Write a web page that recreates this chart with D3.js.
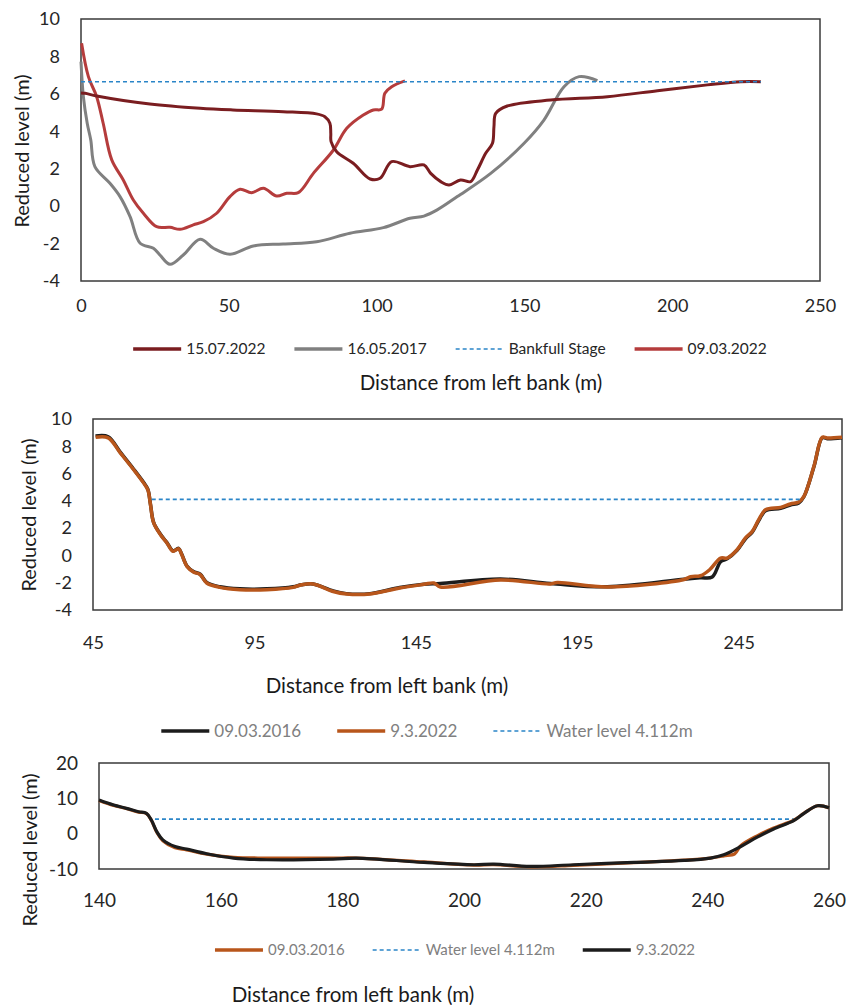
<!DOCTYPE html>
<html lang="en">
<head>
  <meta charset="UTF-8">
  <title>Cross sections – reduced level vs distance</title>
  <script src="https://d3js.org/d3.v7.min.js"></script>
  <style>
    html, body { margin: 0; padding: 0; background: #fff; }
    svg { display: block; }
    text { font-family: Lato, "Open Sans", sans-serif; }
  </style>
</head>
<body>
  <script>
    // ------------- Data -------------
    // Panel 1
    const p1XTicks = [0, 50, 100, 150, 200, 250];
    const p1YTicks = [-4, -2, 0, 2, 4, 6, 8, 10];
    const s15072022 = [[0,6.05],[1.4,6.03],[5.3,5.89],[23.3,5.46],[40.3,5.23],[51.4,5.14],[68.4,5.05],[79.7,4.93],
      [82.5,4.78],[84.2,4.43],[84.5,3.89],[84.6,3.45],[86.5,2.91],[92.1,2.29],[97.8,1.45],[101.2,1.49],[105.1,2.38],
      [111.3,2.11],[116,2.2],[118.3,1.75],[121.7,1.31],[124.5,1.13],[128.4,1.4],[131.8,1.31],[134.1,1.93],[136.9,2.82],
      [139.2,3.36],[139.7,4.25],[140.3,4.96],[144.2,5.35],[158.9,5.67],[178.1,5.85],[195,6.17],[211.9,6.48],[223.2,6.65],[230,6.65]];
    const s16052017 = [[0,7.72],[0.8,5.85],[2.1,4.43],[3.3,3.54],[4.7,2.11],[9.8,1.22],[13.2,0.51],[16.6,-0.56],[20,-1.98],
      [24.5,-2.25],[26.7,-2.61],[30.1,-3.11],[34.6,-2.61],[40.3,-1.77],[44.8,-2.25],[50.4,-2.57],[58.3,-2.13],[68.4,-2.02],
      [79.7,-1.9],[91,-1.45],[102.3,-1.15],[111.3,-0.65],[116,-0.53],[120.5,-0.2],[127.3,0.51],[138.6,1.75],[149.9,3.36],
      [156.6,4.6],[163.4,6.38],[168.5,6.92],[174.7,6.71]];
    const bankfull = [[0,6.65],[230,6.65]];
    const s09032022 = [[0.2,8.7],[2.5,6.92],[5.3,5.85],[7.5,4.43],[10.4,2.47],[14.3,1.4],[17.7,0.33],[21.1,-0.38],[25.6,-1.1],
      [30.1,-1.13],[33.5,-1.24],[38,-1.0],[41.4,-0.83],[45.9,-0.38],[50.4,0.51],[53.8,0.9],[57.7,0.72],[61.7,0.95],[66.2,0.54],
      [69.6,0.69],[73.5,0.72],[78.6,1.75],[85.4,3.0],[89.9,4.16],[95.5,4.87],[98.9,5.14],[101.7,5.18],[102.8,6.03],[105.1,6.38],[109.6,6.69]];

    // Panel 2
    const p2XTicks = [45, 95, 145, 195, 245];
    const p2YTicks = [-4, -2, 0, 2, 4, 6, 8, 10];
    const s09032016a = [[45.8,8.75],[49.7,8.7],[53.5,7.55],[57.6,6.32],[60.7,5.34],[62,4.85],[62.8,3.75],[63.8,2.4],[65.9,1.55],
      [67.9,0.94],[69.8,0.33],[71.5,0.52],[72.5,0.08],[74.1,-0.77],[76.1,-1.18],[78.2,-1.38],[80.2,-1.98],[84.3,-2.3],
      [90.5,-2.45],[98.8,-2.45],[107,-2.3],[109.6,-2.15],[113.2,-2.09],[119.4,-2.6],[123.5,-2.8],[130.8,-2.8],[140,-2.35],
      [147.5,-2.12],[152.6,-2.05],[171.2,-1.73],[186.7,-2.05],[204.3,-2.3],[228.1,-1.74],[233.2,-1.64],[236.8,-1.58],
      [239.4,-0.46],[241.4,-0.25],[244.5,0.38],[247.1,1.22],[249.2,1.7],[251.2,2.55],[253.3,3.28],[258,3.45],[261,3.7],
      [263.6,3.85],[265.2,4.3],[268.3,6.5],[270.9,8.63],[272.4,8.56],[277,8.63]];
    const s932022a = [[45.8,8.66],[49.7,8.62],[53.5,7.5],[57.6,6.28],[60.7,5.3],[62,4.8],[62.8,3.72],[63.8,2.38],[65.9,1.52],
      [67.9,0.91],[69.8,0.3],[71.5,0.49],[72.5,0.05],[74.1,-0.8],[76.1,-1.21],[78.2,-1.41],[80.2,-2.02],[84.3,-2.34],
      [90.5,-2.51],[98.8,-2.51],[107,-2.34],[109.6,-2.15],[113.2,-2.09],[119.4,-2.64],[123.5,-2.83],[130.8,-2.83],[140,-2.39],
      [147.5,-2.12],[150.6,-2.02],[152.6,-2.31],[171.2,-1.8],[186.7,-2.09],[188.8,-1.98],[204.3,-2.31],[228.1,-1.76],
      [230.1,-1.56],[233.2,-1.49],[236,-1.05],[239.4,-0.19],[241.4,-0.19],[244.5,0.42],[247.1,1.28],[249.2,1.76],
      [251.2,2.62],[253.3,3.35],[258,3.52],[261,3.77],[263.6,3.92],[265.2,4.33],[268.3,6.53],[270.9,8.66],[272.4,8.61],[277,8.66]];
    const water2 = [[63.2,4.112],[264.6,4.112]];

    // Panel 3
    const p3XTicks = [140, 160, 180, 200, 220, 240, 260];
    const p3YTicks = [-10, 0, 10, 20];
    const s09032016b = [[140,9.4],[142.4,8.0],[144.5,7.1],[146.5,6.1],[147.8,5.7],[148.6,3.8],[149.5,0.4],[150.5,-2.0],
      [152.5,-4.0],[154.4,-4.6],[157.7,-5.8],[162.1,-6.7],[167.6,-6.9],[178.5,-6.9],[182.3,-6.9],[193.4,-8.0],[201.6,-8.9],
      [204.9,-8.8],[210.9,-9.4],[218,-9.0],[227.9,-8.2],[236.2,-7.5],[240.5,-6.9],[242.7,-6.3],[244.5,-5.7],[245.5,-3.4],
      [248.2,-0.6],[250.9,1.6],[254.2,3.8],[255.9,5.8],[258.1,7.9],[260,7.3]];
    const s932022b = [[140,9.5],[142.4,8.1],[144.5,7.17],[146.5,6.2],[147.8,5.76],[148.6,3.88],[149.5,0.58],[150.5,-1.75],
      [152.5,-3.64],[154.4,-4.37],[157.7,-5.69],[162.1,-6.9],[167.6,-7.38],[178.5,-7.19],[182.3,-6.9],[193.4,-8.14],
      [201.6,-8.79],[204.9,-8.6],[210.9,-9.27],[218,-8.79],[227.9,-8.14],[236.2,-7.58],[240.5,-6.9],[242.7,-5.98],
      [245.5,-3.64],[248.2,-0.99],[250.9,1.34],[254.2,3.68],[255.9,5.76],[258.1,7.9],[260,7.34]];
    const water3 = [[149.2,4.112],[254.5,4.112]];

    // ------------- Panel layout -------------
    const W = 848, H = 1005;
    const svg = d3.select("body").append("svg").attr("width", W).attr("height", H);

    const panels = [
      {
        box: { x0: 81, x1: 820, y0: 19, y1: 281 },
        xDomain: [0, 250], yDomain: [-4, 10], xTicks: p1XTicks, yTicks: p1YTicks,
        tickSize: 18, xTickY: 306, yTickX: 60,
        xTitle: { x: 481, y: 383, size: 20.5 }, yTitle: { x: 22, y: 151, size: 20 },
        series: [
          { name: "15.07.2022", data: s15072022, color: "#7a1d20", width: 3 },
          { name: "16.05.2017", data: s16052017, color: "#808080", width: 3 },
          { name: "Bankfull Stage", data: bankfull, color: "#2a85c8", width: 1.6, dash: "4,3" },
          { name: "09.03.2022", data: s09032022, color: "#b53c3c", width: 3 }
        ],
        drawOrder: [1, 3, 0, 2],
        legend: { cx: 450, y: 349, size: 15.5, color: "#262626", gap: 29 }
      },
      {
        box: { x0: 93, x1: 842, y0: 419, y1: 610 },
        xDomain: [45, 277], yDomain: [-4, 10], xTicks: p2XTicks, yTicks: p2YTicks,
        tickSize: 18, xTickY: 643, yTickX: 72,
        xTitle: { x: 387, y: 686, size: 20.5 }, yTitle: { x: 29, y: 515, size: 20 },
        series: [
          { name: "09.03.2016", data: s09032016a, color: "#1c1c1c", width: 3.5 },
          { name: "9.3.2022", data: s932022a, color: "#b8561b", width: 3.5 },
          { name: "Water level 4.112m", data: water2, color: "#2a85c8", width: 1.6, dash: "4,3" }
        ],
        drawOrder: [0, 1, 2],
        legend: { cx: 427, y: 731, size: 17, color: "#808080", gap: 36 }
      },
      {
        box: { x0: 99, x1: 829, y0: 763, y1: 869 },
        xDomain: [140, 260], yDomain: [-10, 20], xTicks: p3XTicks, yTicks: p3YTicks,
        tickSize: 19, xTickY: 900, yTickX: 78,
        xTitle: { x: 353, y: 995, size: 20.5 }, yTitle: { x: 30, y: 850, size: 20 },
        series: [
          { name: "09.03.2016", data: s09032016b, color: "#b8561b", width: 3.2 },
          { name: "Water level 4.112m", data: water3, color: "#2a85c8", width: 1.6, dash: "4,3" },
          { name: "9.3.2022", data: s932022b, color: "#1c1c1c", width: 3.2 }
        ],
        drawOrder: [1, 0, 2],
        legend: { cx: 455, y: 950, size: 15, color: "#808080", gap: 28 }
      }
    ];

    function drawPanel(p) {
      const g = svg.append("g");
      const x = d3.scaleLinear().domain(p.xDomain).range([p.box.x0, p.box.x1]);
      const y = d3.scaleLinear().domain(p.yDomain).range([p.box.y1, p.box.y0]);

      // plot frame
      g.append("rect")
        .attr("x", p.box.x0).attr("y", p.box.y0)
        .attr("width", p.box.x1 - p.box.x0).attr("height", p.box.y1 - p.box.y0)
        .attr("fill", "none").attr("stroke", "#3a3a3a").attr("stroke-width", 1.5);

      // axes (labels only, no tick marks)
      const xAxis = g.append("g")
        .attr("transform", `translate(0,${p.xTickY})`)
        .call(d3.axisBottom(x).tickValues(p.xTicks).tickSize(0).tickPadding(0).tickFormat(d => String(d)));
      xAxis.select(".domain").remove();
      xAxis.selectAll("text").attr("dy", "0.35em").attr("y", 0)
        .attr("font-size", p.tickSize).attr("fill", "#262626").style("font-family", "Lato, sans-serif");

      const yAxis = g.append("g")
        .attr("transform", `translate(${p.yTickX},0)`)
        .call(d3.axisLeft(y).tickValues(p.yTicks).tickSize(0).tickPadding(0).tickFormat(d => String(d)));
      yAxis.select(".domain").remove();
      yAxis.selectAll("text").attr("x", 0)
        .attr("font-size", p.tickSize).attr("fill", "#262626").style("font-family", "Lato, sans-serif");

      // titles
      g.append("text").attr("x", p.xTitle.x).attr("y", p.xTitle.y).attr("dy", "0.35em")
        .attr("text-anchor", "middle").attr("font-size", p.xTitle.size).attr("fill", "#1a1a1a")
        .text("Distance from left bank (m)");
      g.append("text")
        .attr("transform", `translate(${p.yTitle.x},${p.yTitle.y}) rotate(-90)`)
        .attr("dy", "0.35em").attr("text-anchor", "middle")
        .attr("font-size", p.yTitle.size).attr("fill", "#1a1a1a")
        .text("Reduced level (m)");

      // lines (smoothed like the spreadsheet's smoothed lines; dashed levels straight)
      const smooth = d3.line()
        .x(d => x(d[0])).y(d => y(d[1]))
        .curve(d3.curveCatmullRom.alpha(0.5));
      const straight = d3.line().x(d => x(d[0])).y(d => y(d[1]));
      p.drawOrder.forEach(i => {
        const s = p.series[i];
        g.append("path")
          .datum(s.data)
          .attr("d", s.dash ? straight : smooth)
          .attr("fill", "none")
          .attr("stroke", s.color)
          .attr("stroke-width", s.width)
          .attr("stroke-linejoin", "round")
          .attr("stroke-dasharray", s.dash || null);
      });

      // legend: laid out sequentially, then centred
      const lg = g.append("g");
      let cursor = 0;
      p.series.forEach(s => {
        const item = lg.append("g").attr("transform", `translate(${cursor},0)`);
        item.append("line")
          .attr("x1", 0).attr("x2", 48).attr("y1", 0).attr("y2", 0)
          .attr("stroke", s.color).attr("stroke-width", s.dash ? 1.6 : 3.5)
          .attr("stroke-dasharray", s.dash || null);
        const t = item.append("text").attr("x", 53).attr("y", 0).attr("dy", "0.35em")
          .attr("font-size", p.legend.size).attr("fill", p.legend.color).text(s.name);
        cursor += 53 + t.node().getComputedTextLength() + p.legend.gap;
      });
      const total = cursor - p.legend.gap;
      lg.attr("transform", `translate(${p.legend.cx - total / 2},${p.legend.y})`);
    }

    panels.forEach(drawPanel);
  </script>
</body>
</html>
